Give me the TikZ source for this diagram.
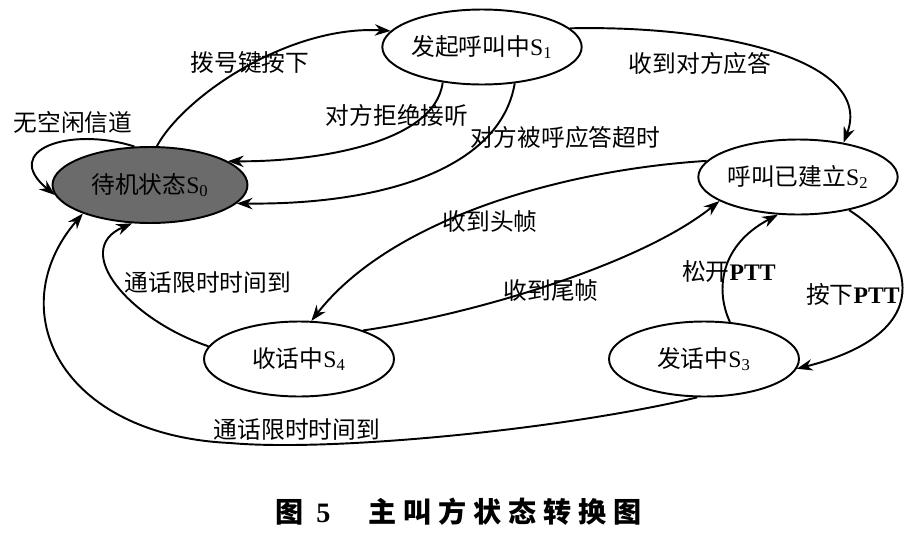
\documentclass[tikz,border=0pt]{standalone}
\usepackage{fontspec}
\setmainfont{Liberation Serif}
\newfontfamily\cjk{Noto Sans CJK SC}
\newfontfamily\cjkcap[LetterSpace=25]{Noto Sans CJK SC}
\usepackage{tikz}
\usetikzlibrary{arrows.meta, shapes.geometric}

\tikzset{
    state/.style={draw, ellipse, line width=1.1pt, minimum width=3.8cm, minimum height=1.5cm,
        inner sep=0pt, font=\fontsize{13.5}{16}\selectfont},
    trans/.style={->, line width=1.1pt},
    lbl/.style={font=\cjk\fontsize{13.5}{16}\selectfont, inner sep=1pt}
}

\begin{document}
\begin{tikzpicture}[>={Stealth[length=9pt,width=6.5pt]}, x=0.02cm, y=-0.02cm]

    \useasboundingbox (0,0) rectangle (924,545);

    % =================================================================
    % 1. 状态结点
    % =================================================================
    \node[state, fill=black!58, minimum width=3.9cm, minimum height=1.52cm] (S0) at (150,185) {{\cjk 待机状态}S\textsubscript{0}};
    \node[state] (S1) at (482,47) {{\cjk 发起呼叫中}S\textsubscript{1}};
    \node[state] (S2) at (798,177) {{\cjk 呼叫已建立}S\textsubscript{2}};
    \node[state] (S3) at (704,359) {{\cjk 发话中}S\textsubscript{3}};
    \node[state] (S4) at (299,359) {{\cjk 收话中}S\textsubscript{4}};

    % =================================================================
    % 2. 状态转换
    % =================================================================
    % S0 自环
    \draw[trans] (S0.112) .. controls (70,126) and (0,150) .. (S0.186);

    % S0 -> S1, S1 -> S0
    \draw[trans] (S0.80) .. controls (185,95) and (290,25) .. (S1.170);
    \draw[trans] (S1.222) .. controls (435,145) and (310,162) .. (S0.17);
    \draw[trans] (S1.312) .. controls (500,170) and (380,205) .. (S0.-12);

    % S1 -> S2
    \draw[trans] (S1.12) .. controls (720,25) and (875,60) .. (S2.37);

    % S2 <-> S4
    \draw[trans] (S2.170) .. controls (560,170) and (390,220) .. (S4.72);
    \draw[trans] (S4.24) .. controls (470,315) and (640,265) .. (S2.197);

    % S2 <-> S3
    \draw[trans] (S3.55) .. controls (715,290) and (720,245) .. (S2.242);
    \draw[trans] (S2.-33) .. controls (905,245) and (950,330) .. (S3.-6);

    % S4 -> S0, S3 -> S0
    \draw[trans] (S4.172) .. controls (130,320) and (70,250) .. (S0.245);
    \coordinate (Bottom) at (230,443);
    \draw[trans] (S3.260) .. controls (560,430) and (330,452) .. (Bottom)
        .. controls (60,435) and (0,310) .. (S0.203);

    % =================================================================
    % 3. 转换条件与图题
    % =================================================================
    \node[lbl] (Lnoidle) at (73,122) {无空闲信道};
    \node[lbl] (Ldial) at (250,62) {拨号键按下};
    \node[lbl] (Lreject) at (397,115) {对方拒绝接听};
    \node[lbl] (Ltimeout) at (565,137) {对方被呼应答超时};
    \node[lbl] (Lanswer) at (700,63) {收到对方应答};
    \node[lbl] (Lhead) at (490,222) {收到头帧};
    \node[lbl] (Ltail) at (551,291) {收到尾帧};
    \node[lbl] (Llimit) at (208,283) {通话限时时间到};
    \node[lbl] (Llimitb) at (297,430) {通话限时时间到};
    \node[lbl] (Lrelease) at (729,272) {松开{\rmfamily\bfseries PTT}};
    \node[lbl] (Lpress) at (853,294) {按下{\rmfamily\bfseries PTT}};

    \node[font=\cjkcap\bfseries\fontsize{16}{18}\selectfont] (Caption) at (459,512)
        {图\hspace{0.25cm}{\rmfamily 5}\hspace{0.75cm}主叫方状态转换图};

\end{tikzpicture}
\end{document}
